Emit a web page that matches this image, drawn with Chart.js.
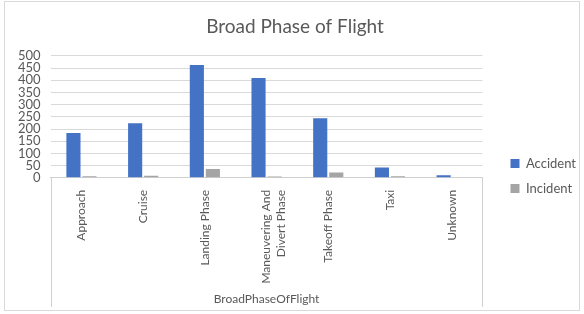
<!DOCTYPE html>
<html>
<head>
<meta charset="utf-8">
<script src="https://cdn.jsdelivr.net/npm/chart.js@4"></script>
<style>
  html, body { margin: 0; padding: 0; background: #fff; }
  #wrap { width: 584px; height: 314px; position: relative; }
</style>
</head>
<body>
<div id="wrap"><canvas id="myChart" width="584" height="314"></canvas></div>
<script>
'use strict';
let phases = ['Approach', 'Cruise', 'Landing Phase', ['Maneuvering And', 'Divert Phase'], 'Takeoff Phase', 'Taxi', 'Unknown'];
let accident = [184, 224, 462, 409, 244, 42, 11];
let incident = [6, 8, 36, 5, 22, 6, 0];
let yTicks = [0, 50, 100, 150, 200, 250, 300, 350, 400, 450, 500];

let grayText = '#595959';
let fontName = 'Lato, "Open Sans", sans-serif';
let legendExtra = 12;
let legendShiftX = 16;
let legendShiftY = 21;

// outer frame + the box around the category axis
let framePlugin = {
  id: 'frame',
  beforeInit(chart) {
    // reserve a bit more room for the legend, then push it right
    let fit = chart.legend.fit;
    chart.legend.fit = function () {
      fit.bind(chart.legend)();
      this.width += legendExtra;
    };
  },
  afterLayout(chart) {
    chart.legend.left += legendShiftX;
    chart.legend.top += legendShiftY;
    chart.legend.bottom += legendShiftY;
  },
  afterDraw(chart) {
    let ctx = chart.ctx;
    let area = chart.chartArea;
    ctx.save();
    ctx.strokeStyle = '#d9d9d9';
    ctx.lineWidth = 1;
    ctx.strokeRect(4.5, 1.5, 575, 309);
    ctx.strokeStyle = '#d0d0d0';
    ctx.beginPath();
    ctx.moveTo(Math.round(area.left) + 0.5, area.bottom);
    ctx.lineTo(Math.round(area.left) + 0.5, 307);
    ctx.moveTo(Math.round(area.right) + 0.5, area.bottom);
    ctx.lineTo(Math.round(area.right) + 0.5, 307);
    ctx.stroke();
    ctx.restore();
  }
};

let ctx = document.getElementById('myChart').getContext('2d');
let myChart = new Chart(ctx, {
  type: 'bar',
  data: {
    labels: phases,
    datasets: [{
      label: 'Accident',
      data: accident,
      backgroundColor: '#4472c4',
      categoryPercentage: 0.52,
      barPercentage: 0.88
    }, {
      label: 'Incident',
      data: incident,
      backgroundColor: '#a5a5a5',
      categoryPercentage: 0.52,
      barPercentage: 0.88
    }]
  },
  options: {
    responsive: false,
    animation: false,
    layout: { padding: { left: 8, right: 2, top: 4, bottom: 8 } },
    plugins: {
      title: {
        display: true,
        text: 'Broad Phase of Flight',
        color: grayText,
        font: { family: fontName, size: 19, weight: 'normal' },
        padding: { top: 11, bottom: 18 }
      },
      legend: {
        position: 'right',
        labels: {
          color: grayText,
          font: { family: fontName, size: 13 },
          boxWidth: 9,
          boxHeight: 9,
          padding: 12
        }
      },
      tooltip: { enabled: false }
    },
    scales: {
      x: {
        grid: { display: false },
        border: { color: '#d0d0d0' },
        ticks: {
          color: grayText,
          font: { family: fontName, size: 12 },
          minRotation: 90,
          maxRotation: 90,
          autoSkip: false,
          padding: 4
        },
        title: {
          display: true,
          text: 'BroadPhaseOfFlight',
          color: grayText,
          font: { family: fontName, size: 12 },
          padding: { top: 4, bottom: 0 }
        }
      },
      y: {
        min: 0,
        max: 500,
        afterBuildTicks(axis) {
          axis.ticks = yTicks.map(v => ({ value: v }));
        },
        grid: { color: '#d9d9d9', drawTicks: false },
        border: { display: false },
        ticks: {
          color: grayText,
          font: { family: fontName, size: 13 },
          autoSkip: false,
          padding: 10
        }
      }
    }
  },
  plugins: [framePlugin]
});
</script>
</body>
</html>
